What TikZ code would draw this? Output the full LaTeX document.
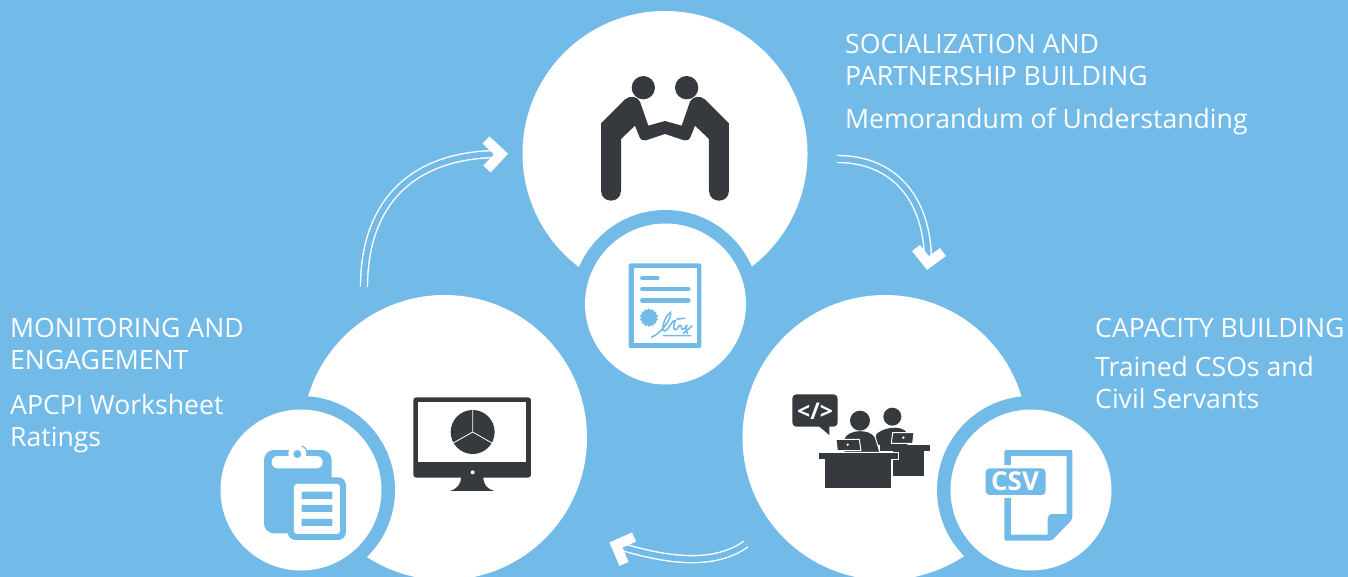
\documentclass[tikz,border=0pt]{standalone}
\usepackage{fontspec}
\setmainfont{Open Sans}
\usetikzlibrary{shapes.geometric}
\definecolor{skyb}{HTML}{72BBE8}
\definecolor{darkc}{HTML}{36393D}
\tikzset{
 big/.style={circle,fill=white,minimum size=285pt,inner sep=0pt,outer sep=0pt},
 ring/.style={circle,fill=skyb,minimum size=188pt,inner sep=0pt,outer sep=0pt},
 small/.style={circle,fill=white,minimum size=161pt,inner sep=0pt,outer sep=0pt},
 lab/.style={anchor=base west,text=white,inner sep=0pt,font=\fontsize{26.6}{30}\selectfont},
 flow/.style={draw=white,double=skyb,double distance=5.6pt,line width=1.4pt},
 chevron/.style={draw=white,line width=10pt,miter limit=10},
 zoomed/.style={x=0.3333pt,y=-0.3333pt},
}
\begin{document}
\begin{tikzpicture}[x=1pt,y=-1pt]
\useasboundingbox (0,0) rectangle (1348,577);
\clip (0,0) rectangle (1348,577);
\fill[skyb] (0,0) rectangle (1348,577);
% main circles
\node[big] (top) at (665,153.5) {};
\node[big] (left) at (444.5,437.5) {};
\node[big] (right) at (885,437.5) {};
\node[ring] (ringT) at (665.5,304) {};
\node[ring] (ringL) at (301,490) {};
\node[ring] (ringR) at (1031,490) {};
\node[small] (smallT) at (665.5,304) {};
\node[small] (smallL) at (301,490) {};
\node[small] (smallR) at (1031,490) {};
% arrows
\coordinate (a1s) at (364,287); \coordinate (a1e) at (500,154);
\coordinate (a2s) at (837,159); \coordinate (a2e) at (928,262);
\coordinate (a3s) at (746,544); \coordinate (a3e) at (616,545);
\draw[flow] (a1s) .. controls (364,205) and (410,154) .. (a1e);
\draw[flow] (a2s) .. controls (895,159) and (928,200) .. (a2e);
\draw[flow] (a3s) .. controls (715,566) and (670,562) .. (a3e);
\draw[chevron] (486,140) -- (501,154) -- (487,169);
\draw[chevron] (916,248) -- (928,263) -- (943,252);
\draw[chevron] (634,537) -- (616,545) -- (624,564);
% handshake icon
\begin{scope}[shift={(560,60)},zoomed]
\fill[darkc] (250,83) circle[radius=35] (380,83) circle[radius=35];
\fill[darkc] (123,190) -- (195,118) .. controls (210,106) and (232,108) .. (240,125) -- (265,197) -- (315,183) -- (365,197) -- (390,125) .. controls (398,108) and (420,106) .. (435,118) -- (507,190) -- (507,392) .. controls (507,432) and (447,432) .. (447,392) -- (447,237) -- (405,197) -- (392,230) .. controls (388,240) and (380,243) .. (372,241) -- (315,222) -- (258,241) .. controls (250,243) and (242,240) .. (238,230) -- (225,197) -- (183,237) -- (183,392) .. controls (183,432) and (123,432) .. (123,392) -- cycle;
\end{scope}
% certificate icon
\begin{scope}[shift={(600,250)},zoomed]
\fill[skyb,rounded corners=2pt] (86,40) rectangle (304,294);
\fill[white] (102,55) rectangle (290,278);
\draw[skyb,line width=4.6pt,line cap=round] (127,84) -- (172,84) (127,117) -- (265,117) (127,151) -- (265,151);
\node[star,star points=14,star point ratio=1.25,fill=skyb,minimum size=19pt,inner sep=0pt,outer sep=0pt] (seal) at (147,203) {};
\draw[skyb,line width=1.6pt,line cap=round] (155,262) .. controls (185,248) and (215,205) .. (212,188) .. controls (195,195) and (180,245) .. (193,243) .. controls (208,240) and (218,205) .. (226,212) .. controls (216,228) and (222,248) .. (232,236) .. controls (238,226) and (242,222) .. (244,228) .. controls (243,242) and (250,242) .. (262,226) (256,228) -- (262,250) (276,228) -- (250,250) (190,257) -- (272,257) (232,207) -- (254,205);
\end{scope}
% coder icon
\begin{scope}[shift={(780,385)},zoomed]
\fill[darkc,rounded corners=4pt] (37,28) rectangle (173,125);
\fill[darkc] (112,120) -- (148,150) -- (148,120) -- cycle;
\node[text=white,inner sep=0pt,font=\bfseries\fontsize{23}{23}\selectfont] (code) at (105,79) {</>};
% back person and desk
\fill[darkc] (337,95) circle[radius=27];
\fill[darkc] (288,150) .. controls (300,130) and (365,115) .. (382,145) -- (382,180) -- (288,180) -- cycle;
\fill[darkc] (300,180) rectangle (450,197);
\fill[darkc] (340,197) rectangle (433,273);
\draw[white,line width=1pt,fill=darkc] (338,143) -- (402,143) -- (398,175) -- (334,175) -- cycle;
\fill[white] (370,158) circle[radius=4];
% front person and desk
\fill[darkc,draw=white,line width=1pt] (192,160) .. controls (205,130) and (270,130) .. (285,155) -- (300,202) -- (192,202) -- cycle;
\fill[darkc] (240,107) circle[radius=30];
\draw[white,line width=1pt,fill=darkc] (168,163) -- (238,163) -- (243,197) -- (172,197) -- cycle;
\fill[white] (203,179) circle[radius=4];
\fill[darkc,draw=white,line width=1pt] (115,202) -- (355,202) -- (355,225) -- (335,225) -- (335,310) -- (133,310) -- (133,225) -- (115,225) -- cycle;
\end{scope}
% csv icon
\begin{scope}[shift={(970,440)},zoomed]
\fill[skyb,rounded corners=2pt] (103,30) -- (307,30) -- (307,238) -- (245,302) -- (103,302) -- cycle;
\fill[white] (123,48) -- (290,48) -- (290,222) -- (245,222) .. controls (237,222) and (233,228) .. (233,236) -- (233,284) -- (123,284) -- cycle;
\fill[white] (90,75) rectangle (135,175);
\fill[skyb,rounded corners=4pt] (47,85) rectangle (227,165);
\node[text=white,inner sep=0pt,font=\bfseries\fontsize{26}{26}\selectfont] (csv) at (135,125) {CSV};
\end{scope}
% clipboard icon
\begin{scope}[shift={(250,440)},zoomed]
\fill[skyb,rounded corners=10pt] (42,30) rectangle (245,280);
\fill[white,rounded corners=6pt] (65,48) rectangle (218,85);
\fill[white] (142,40) circle[radius=27];
\draw[skyb,line width=1.2pt] (155,18) .. controls (165,22) and (170,28) .. (172,35);
\fill[skyb] (142,42) circle[radius=12];
\fill[skyb,rounded corners=8pt] (113,112) rectangle (288,300);
\fill[white,rounded corners=3pt] (132,132) rectangle (270,282);
\fill[skyb] (155,155) rectangle (247,177) (155,195) rectangle (247,216) (155,237) rectangle (247,258);
\end{scope}
% monitor icon
\begin{scope}[shift={(400,385)},zoomed]
\fill[darkc] (183,275) .. controls (183,300) and (170,312) .. (150,318) -- (283,318) .. controls (262,312) and (250,300) .. (250,275) -- cycle;
\fill[darkc,rounded corners=3pt] (40,37) rectangle (393,278);
\fill[white] (55,52) rectangle (378,232);
\fill[white] (218,262) circle[radius=6];
\fill[darkc] (218,141) circle[radius=66];
\draw[white,line width=0.8pt] (218,75) -- (218,141) -- (160,174) (218,141) -- (276,174);
\end{scope}
% labels
\node[lab] (t1) at (845,53.5) {SOCIALIZATION AND};
\node[lab] (t2) at (845,85.5) {PARTNERSHIP BUILDING};
\node[lab] (t3) at (845,129) {Memorandum of Understanding};
\node[lab] (r1) at (1095,337) {CAPACITY BUILDING};
\node[lab] (r2) at (1095,376) {Trained CSOs and};
\node[lab] (r3) at (1095,408) {Civil Servants};
\node[lab] (l1) at (10,337) {MONITORING AND};
\node[lab] (l2) at (10,369) {ENGAGEMENT};
\node[lab] (l3) at (10,414) {APCPI Worksheet};
\node[lab] (l4) at (10,446) {Ratings};
\end{tikzpicture}
\end{document}
